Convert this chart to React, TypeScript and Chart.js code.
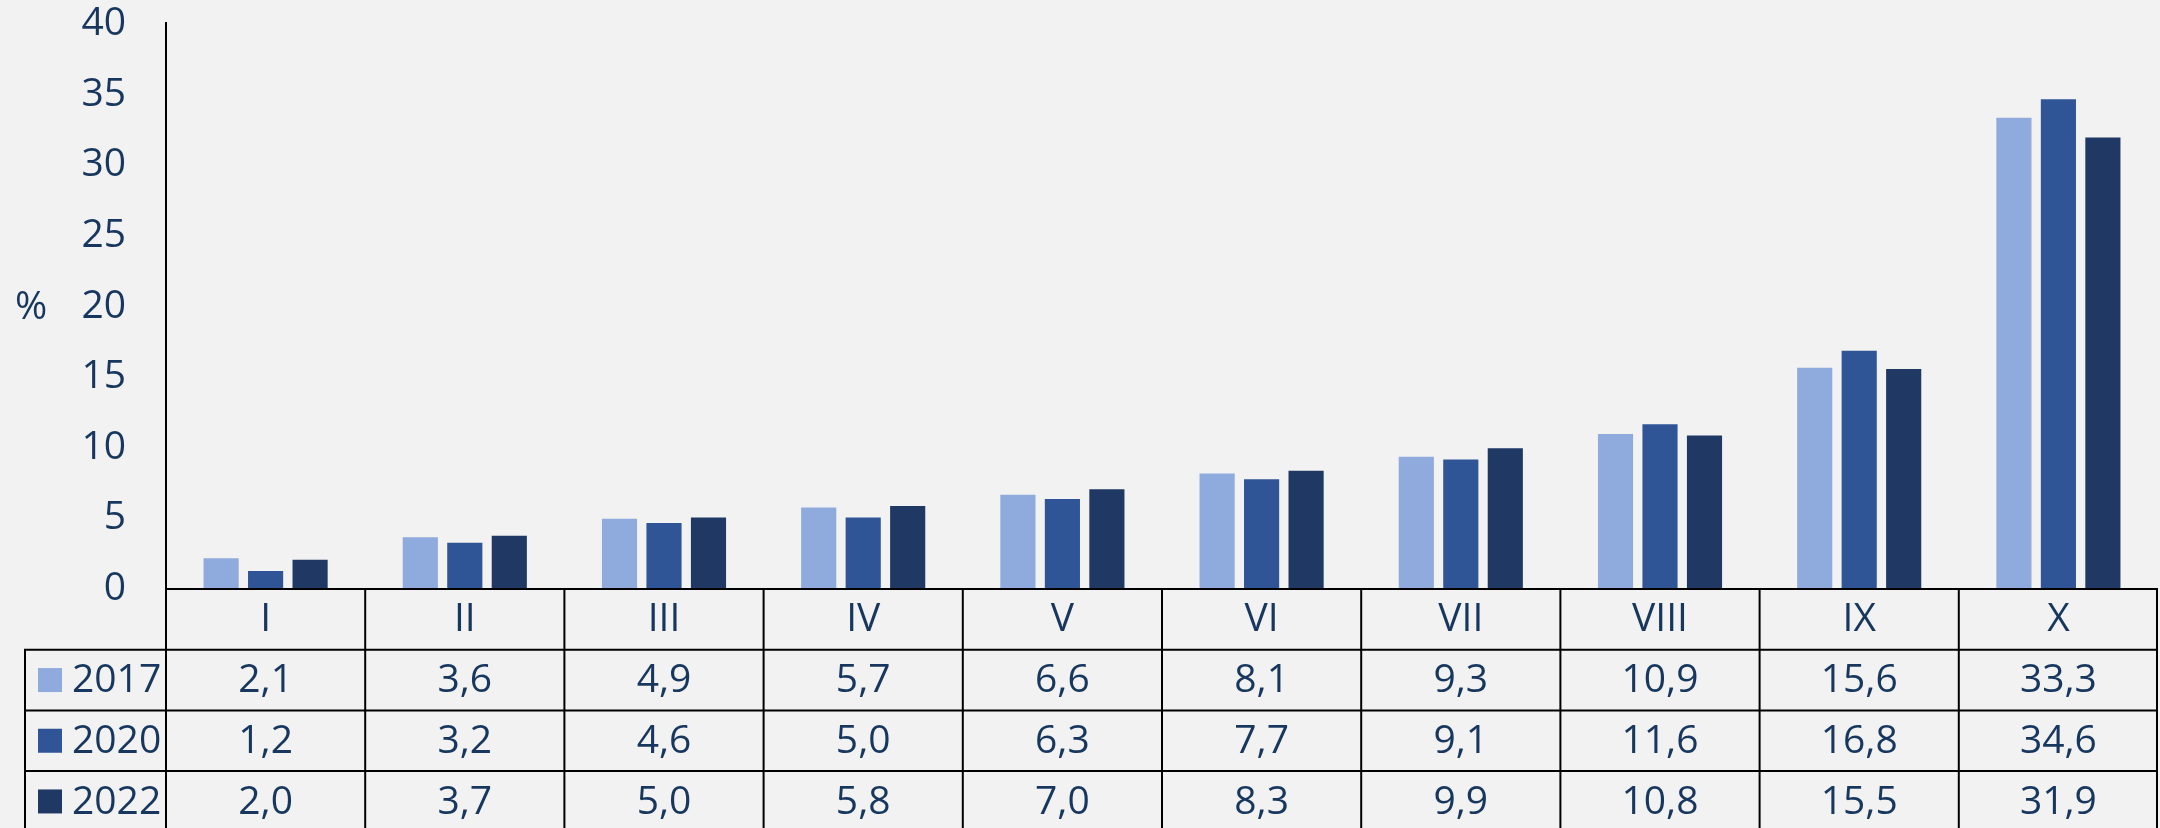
import React, { useEffect, useRef } from "react";
import { Chart, registerables } from "chart.js";

Chart.register(...registerables);

const categories = ["I", "II", "III", "IV", "V", "VI", "VII", "VIII", "IX", "X"];
const seriesNames = ["2017", "2020", "2022"];
const values2017 = [2.1, 3.6, 4.9, 5.7, 6.6, 8.1, 9.3, 10.9, 15.6, 33.3];
const values2020 = [1.2, 3.2, 4.6, 5.0, 6.3, 7.7, 9.1, 11.6, 16.8, 34.6];
const values2022 = [2.0, 3.7, 5.0, 5.8, 7.0, 8.3, 9.9, 10.8, 15.5, 31.9];
const seriesColors = ["#8FAADC", "#2F5597", "#203864"];
const yTicks = [0, 5, 10, 15, 20, 25, 30, 35, 40];
const yUnit = "%";

const TEXT = "#17375E";
const FONT = '"Open Sans", "Noto Sans", sans-serif';
const FS = 39;

const fmt = (v: number) => v.toFixed(1).replace(".", ",");

const bgPlugin = {
  id: "bg",
  beforeDraw(chart: any) {
    const { ctx, width, height } = chart;
    ctx.save();
    ctx.fillStyle = "#F2F2F2";
    ctx.fillRect(0, 0, width, height);
    ctx.restore();
  },
};

const tablePlugin = {
  id: "dataTable",
  afterDraw(chart: any) {
    const { ctx, chartArea } = chart;
    const xs = chart.scales.x;
    const ys = chart.scales.y;
    const left = chartArea.left;
    const right = chartArea.right;
    const top = chartArea.bottom + 1;
    const rowH = 60.7;
    const tableLeft = 25;
    const n = categories.length;
    const colW = (right - left) / n;
    const allValues = [values2017, values2020, values2022];

    ctx.save();
    ctx.strokeStyle = "#000";
    ctx.lineWidth = 2;
    ctx.beginPath();
    ctx.moveTo(left, top);
    ctx.lineTo(right, top);
    for (let r = 1; r <= 4; r++) {
      const y = top + r * rowH;
      ctx.moveTo(tableLeft, y);
      ctx.lineTo(right, y);
    }
    for (let c = 0; c <= n; c++) {
      const x = Math.min(left + c * colW, right - 1);
      ctx.moveTo(x, top - 1);
      ctx.lineTo(x, top + 4 * rowH);
    }
    ctx.moveTo(tableLeft, top + rowH - 1);
    ctx.lineTo(tableLeft, top + 4 * rowH);
    ctx.stroke();

    ctx.fillStyle = TEXT;
    ctx.font = `${FS}px ${FONT}`;
    ctx.textAlign = "center";
    ctx.textBaseline = "middle";
    categories.forEach((c, i) => {
      ctx.fillText(c, xs.getPixelForValue(i), top + rowH / 2 + 1);
    });
    allValues.forEach((vals, r) => {
      const yc = top + rowH * (r + 1) + rowH / 2 + 1;
      ctx.textAlign = "center";
      vals.forEach((v, i) => {
        ctx.fillText(fmt(v), xs.getPixelForValue(i), yc);
      });
      ctx.fillStyle = seriesColors[r];
      ctx.fillRect(38, yc - 13, 24, 24);
      ctx.fillStyle = TEXT;
      ctx.textAlign = "left";
      ctx.fillText(seriesNames[r], 72, yc);
    });
    // y tick labels
    ctx.textAlign = "right";
    yTicks.forEach((t) => {
      ctx.fillText(String(t), 126, ys.getPixelForValue(t) + 1);
    });
    ctx.textAlign = "center";
    ctx.fillText(yUnit, 31, 308);
    ctx.restore();
  },
};

export default function App() {
  const ref = useRef<HTMLCanvasElement | null>(null);
  useEffect(() => {
    document.body.style.margin = "0";
    document.body.style.background = "#F2F2F2";
    const canvas = ref.current!;
    const chart = new Chart(canvas, {
      type: "bar",
      data: {
        labels: categories,
        datasets: [values2017, values2020, values2022].map((d, i) => ({
          label: seriesNames[i],
          data: d,
          backgroundColor: seriesColors[i],
          borderWidth: 0,
          categoryPercentage: 0.67,
          barPercentage: 0.79,
        })),
      },
      options: {
        responsive: false,
        animation: false,
        layout: { padding: { top: 23, right: 2, bottom: 240, left: 0 } },
        plugins: { legend: { display: false }, tooltip: { enabled: false } },
        scales: {
          x: { display: false },
          y: {
            min: 0,
            max: 40,
            afterBuildTicks: (s: any) => {
              s.ticks = yTicks.map((v) => ({ value: v }));
            },
            afterFit: (s: any) => {
              s.width = 166;
            },
            grid: { display: false, drawTicks: false },
            border: { display: true, color: "#000", width: 2 },
            ticks: { display: false },
          },
        },
      },
      plugins: [bgPlugin, tablePlugin],
    });
    return () => chart.destroy();
  }, []);
  return (
    <div style={{ width: 2160, height: 828, background: "#F2F2F2" }}>
      <canvas ref={ref} width={2160} height={828} style={{ display: "block" }} />
    </div>
  );
}
